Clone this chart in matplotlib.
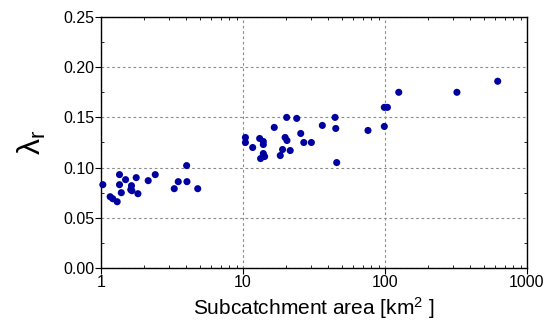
import matplotlib
matplotlib.use("Agg")
import matplotlib.pyplot as plt
from matplotlib.ticker import LogLocator, FixedLocator, MultipleLocator, FuncFormatter

plt.rcParams['font.family'] = ['Liberation Sans', 'DejaVu Sans']
plt.rcParams['mathtext.fontset'] = 'custom'
plt.rcParams['mathtext.rm'] = 'Liberation Sans'
plt.rcParams['mathtext.it'] = 'Liberation Sans:italic'

area = [1.03, 1.16, 1.21, 1.30, 1.35, 1.35, 1.39, 1.49, 1.64, 1.62, 1.65, 1.77, 1.82,
        2.15, 2.41, 3.28, 3.5, 4.01, 4.03, 4.8,
        10.4, 10.4, 11.7, 13.1, 13.9, 13.9, 13.9, 13.3, 14.2, 16.6, 18.3, 19.0, 19.8,
        20.4, 20.3, 21.5, 23.9, 25.5, 26.8, 30.3, 36.2, 44.5, 45.0, 45.7,
        75.9, 98.9, 98.9, 104, 125, 321, 622]
lam = [0.083, 0.071, 0.069, 0.066, 0.093, 0.083, 0.075, 0.088, 0.082, 0.078, 0.077, 0.090, 0.074,
       0.087, 0.093, 0.079, 0.086, 0.102, 0.086, 0.079,
       0.130, 0.125, 0.120, 0.129, 0.126, 0.123, 0.114, 0.109, 0.111, 0.140, 0.112, 0.118, 0.130,
       0.127, 0.150, 0.117, 0.149, 0.134, 0.125, 0.125, 0.142, 0.150, 0.139, 0.105,
       0.137, 0.141, 0.160, 0.160, 0.175, 0.175, 0.186]

xticks = [1, 10, 100, 1000]
xticklabels = ['1', '10', '100', '1000']
yticks = [0.00, 0.05, 0.10, 0.15, 0.20, 0.25]

fig = plt.figure(figsize=(5.49, 3.30), dpi=100)
ax = fig.add_axes([101/549, 1-268/330, (527-101)/549, (268-17)/330])

ax.scatter(area, lam, s=26, color='#0000A0', edgecolors='none', zorder=3, clip_on=False)

ax.set_xscale('log')
ax.set_xlim(1, 1000)
ax.set_ylim(0, 0.25)
ax.xaxis.set_major_locator(FixedLocator(xticks))
ax.set_xticklabels(xticklabels)
ax.xaxis.set_minor_locator(LogLocator(base=10, subs=range(2, 10)))
ax.xaxis.set_minor_formatter(FuncFormatter(lambda v, p: ''))
ax.yaxis.set_major_locator(FixedLocator(yticks))
ax.yaxis.set_minor_locator(MultipleLocator(0.025))
ax.yaxis.set_major_formatter(FuncFormatter(lambda v, p: f'{v:.2f}'))

ax.grid(True, which='major', linestyle=(0, (2.4, 2.4)), color='#8c8c8c', linewidth=0.8)
ax.set_axisbelow(True)

ax.tick_params(which='major', direction='out', length=4, width=0.8, labelsize=11.5,
               top=False, right=False, pad=1)
ax.tick_params(which='minor', direction='in', length=2.5, width=0.6, top=True, right=True)
for s in ax.spines.values():
    s.set_linewidth(1.0)

ax.set_xlabel(r'Subcatchment area [km$^2$ ]', fontsize=15, labelpad=4)
ax.set_ylabel(r'$\mathrm{\lambda}_{\mathrm{r}}$', fontsize=23, labelpad=11)

fig.savefig('out.png', dpi=100)
